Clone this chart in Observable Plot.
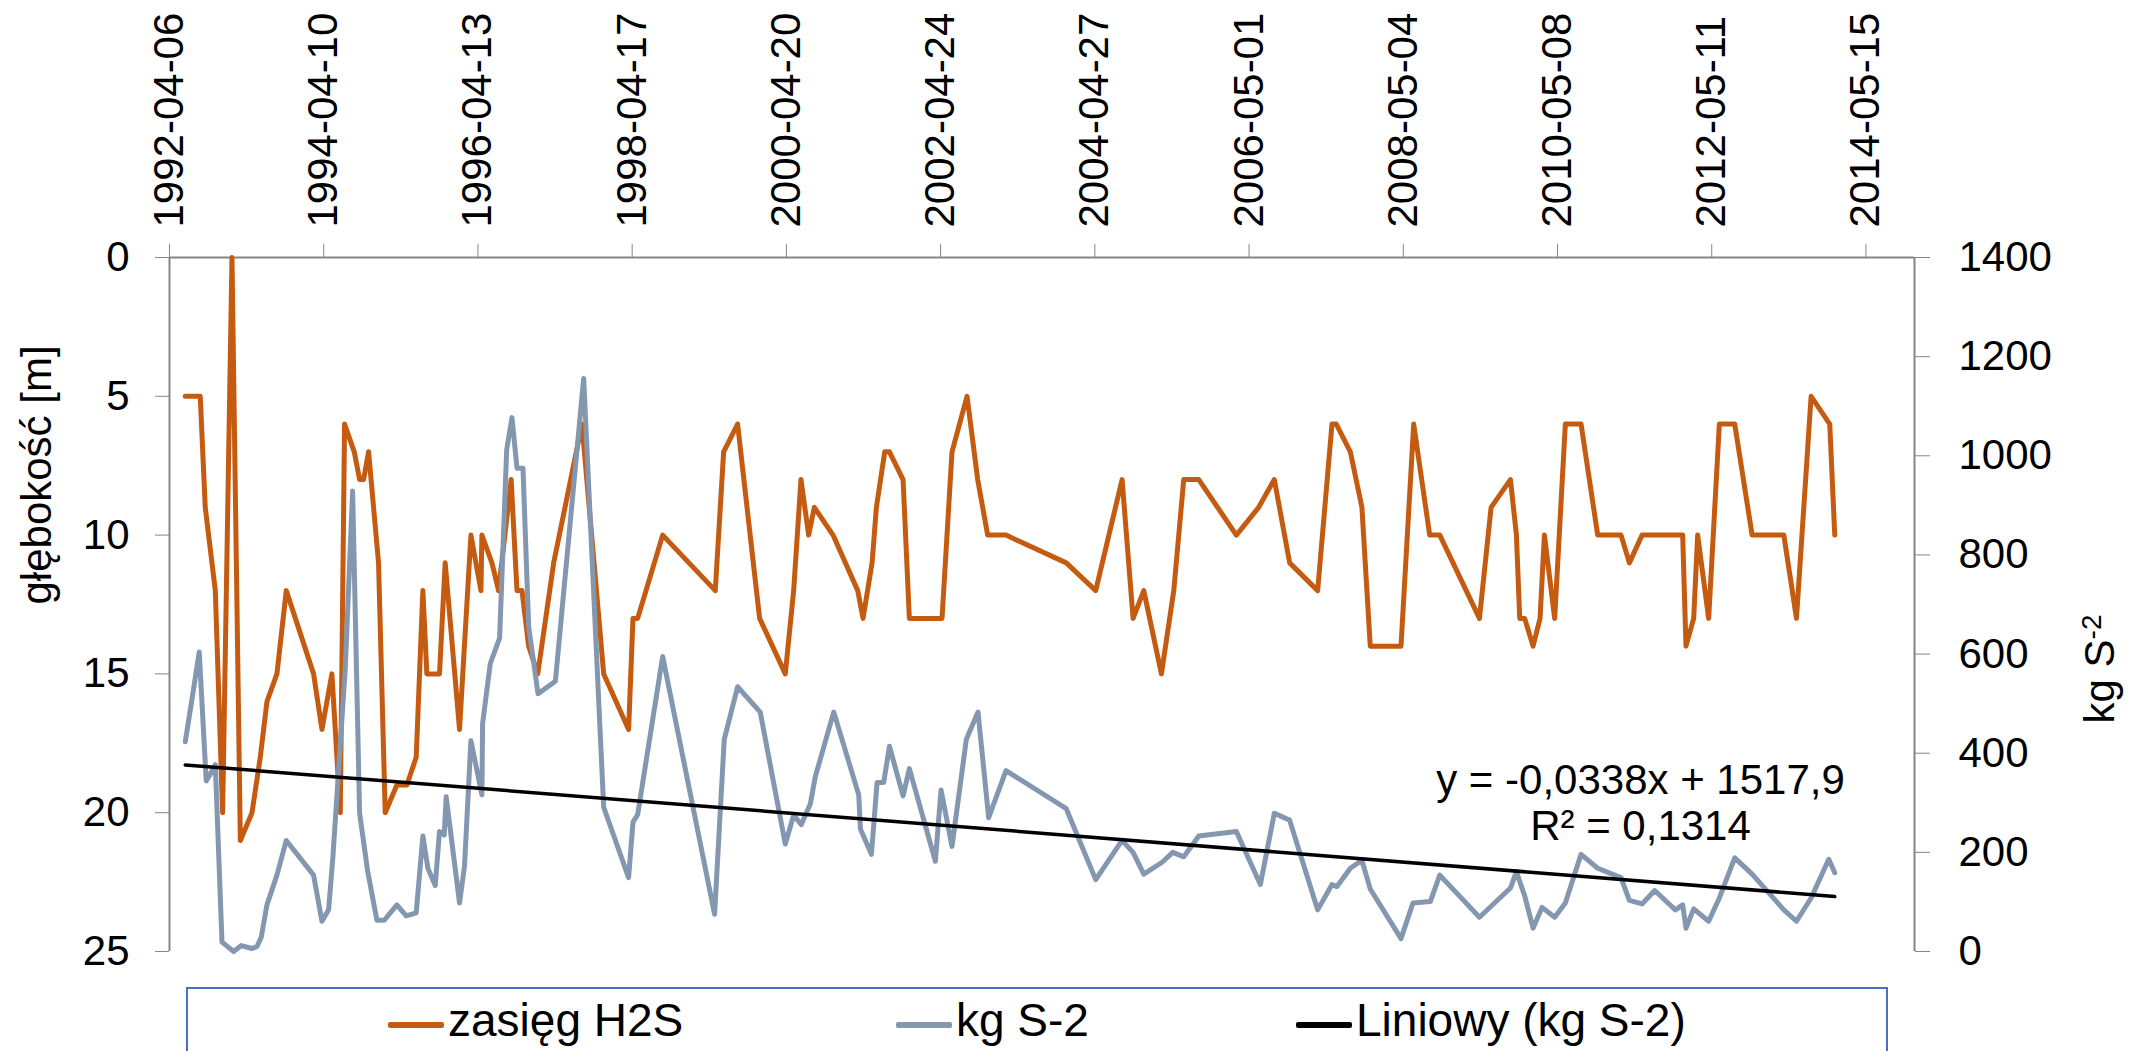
<!DOCTYPE html>
<html><head><meta charset="utf-8">
<script src="https://cdn.jsdelivr.net/npm/d3@7"></script>
<script src="https://cdn.jsdelivr.net/npm/@observablehq/plot@0.6"></script>
<style>
html,body{margin:0;padding:0;background:#fff;}
body{width:2130px;height:1051px;overflow:hidden;position:relative;font-family:"Liberation Sans",Arial,sans-serif;}
#chart{position:absolute;left:0;top:0;}
#legend{position:absolute;left:186px;top:987px;width:1702px;height:100px;border:2px solid #4472C4;box-sizing:border-box;background:#fff;}
.item{position:absolute;top:8px;height:46px;line-height:46px;font-size:46px;color:#000;white-space:nowrap;}
.sw{position:absolute;height:6px;width:56px;top:33px;border-radius:2px;}
</style></head><body>
<div id="chart"></div>
<div id="legend"></div>
<script>
// ---- data ----
const tickDates = ["1992-04-06","1994-04-10","1996-04-13","1998-04-17","2000-04-20","2002-04-24","2004-04-27","2006-05-01","2008-05-04","2010-05-08","2012-05-11","2014-05-15"];
const xDomain = ["1992-04-06","2015-01-01"];
const depthTicks = [0,5,10,15,20,25];
const kgTicks = [0,200,400,600,800,1000,1200,1400];
const depthMax = 25;
const kgMax = 1400;

// zasięg H2S : depth [m], dates as decimal years
const h2sYears = [1992.467,1992.662,1992.727,1992.858,1992.953,1993.075,1993.184,1993.336,1993.444,1993.531,1993.661,1993.783,
1994.139,1994.248,1994.378,1994.487,1994.543,1994.669,1994.739,1994.791,1994.856,1994.986,1995.073,1995.225,1995.356,1995.477,
1995.564,1995.616,1995.781,1995.855,1996.042,1996.190,1996.320,1996.333,1996.463,1996.550,1996.713,1996.789,1996.854,1996.941,
1997.059,1997.267,1997.636,1997.919,1998.244,1998.301,1998.362,1998.688,1999.374,1999.483,1999.665,1999.952,2000.286,2000.395,
2000.490,2000.590,2000.664,2000.907,2001.229,2001.298,2001.416,2001.472,2001.581,2001.642,2001.820,2001.902,2002.328,2002.458,
2002.654,2002.793,2002.923,2003.162,2003.948,2004.331,2004.674,2004.817,2004.956,2005.186,2005.347,2005.477,2005.673,2006.163,
2006.454,2006.658,2006.858,2007.223,2007.410,2007.466,2007.649,2007.800,2007.909,2008.309,2008.474,2008.682,2008.813,2009.330,
2009.482,2009.734,2009.812,2009.855,2009.920,2010.029,2010.120,2010.177,2010.311,2010.450,2010.655,2010.872,2011.176,2011.285,
2011.450,2011.980,2012.023,2012.123,2012.175,2012.318,2012.457,2012.657,2012.883,2013.296,2013.461,2013.652,2013.895,2013.960];
const h2sDepth = [5,5,9,12,20,0,21,20,18,16,15,12,
15,17,15,20,6,7,8,8,7,11,20,19,19,18,
12,15,15,11,17,10,12,10,11,12,8,12,12,14,
15,11,6,15,17,13,13,10,12,7,6,13,15,12,
8,10,9,10,12,13,11,9,7,7,8,13,13,7,
5,8,10,10,11,12,8,13,12,15,12,8,8,10,
9,8,11,12,6,6,7,9,14,14,6,10,10,13,
9,8,10,13,13,14,13,10,13,6,6,10,10,11,
10,10,14,13,10,13,6,6,10,10,13,5,6,10];

// kg S-2
const kgYears = [1992.467,1992.562,1992.649,1992.740,1992.793,1992.858,1992.945,1993.097,1993.197,1993.336,1993.401,1993.457,
1993.531,1993.661,1993.783,1994.139,1994.248,1994.335,1994.391,1994.552,1994.648,1994.739,1994.843,1994.965,1995.060,1995.225,
1995.347,1995.477,1995.564,1995.629,1995.725,1995.781,1995.842,1995.868,1996.042,1996.107,1996.190,1996.333,1996.342,1996.442,
1996.563,1996.655,1996.724,1996.789,1996.867,1996.941,1997.063,1997.289,1997.658,1997.919,1998.244,1998.301,1998.362,1998.688,
1999.365,1999.491,1999.665,1999.960,2000.286,2000.395,2000.495,2000.612,2000.677,2000.916,2001.242,2001.264,2001.407,2001.481,
2001.568,2001.642,2001.820,2001.902,2002.241,2002.315,2002.458,2002.645,2002.797,2002.936,2003.162,2003.948,2004.331,2004.674,
2004.817,2004.956,2005.195,2005.334,2005.477,2005.673,2006.163,2006.476,2006.658,2006.858,2007.223,2007.410,2007.475,2007.649,
2007.800,2007.909,2008.309,2008.465,2008.691,2008.813,2009.330,2009.734,2009.812,2009.920,2010.029,2010.146,2010.311,2010.450,
2010.655,2010.872,2011.176,2011.285,2011.450,2011.615,2011.884,2011.980,2012.023,2012.123,2012.318,2012.457,2012.657,2012.883,
2013.296,2013.461,2013.652,2013.882,2013.960];
const kgValues = [423,516,604,344,358,377,19,0,12,6,10,29,
94,154,224,154,61,84,191,571,929,279,163,63,63,94,
72,78,233,168,133,242,235,312,98,173,425,316,460,581,
632,1012,1077,975,975,655,520,545,1156,291,149,261,276,595,
75,428,534,483,217,275,256,298,353,483,316,247,196,341,
341,414,314,369,182,326,212,428,483,270,365,288,145,224,
200,156,180,200,191,233,242,135,279,265,84,135,131,168,
184,126,26,98,101,154,69,128,161,112,47,89,69,98,
196,168,149,103,96,123,84,94,47,86,61,108,189,156,
84,61,108,186,159];

// linear trend of kg S-2 (Excel serial date as x)
const trendSlope = -0.0338;
const trendIntercept = 1517.9;
const trendLabel = ["y = -0,0338x + 1517,9", "R² = 0,1314"];

const seriesNames = ["zasięg H2S", "kg S-2", "Liniowy (kg S-2)"];
const seriesColors = ["#C55A11", "#8497B0", "#000000"];
const yTitleLeft = "głębokość [m]";
const yTitleRight = "kg S-2";

// ---- helpers ----
function yearToDate(y) {
  const yr = Math.floor(y);
  const a = Date.UTC(yr, 0, 1), b = Date.UTC(yr + 1, 0, 1);
  return new Date(a + (y - yr) * (b - a));
}
const depthToY = d => kgMax * (1 - d / depthMax);
const yToDepth = v => Math.round(depthMax * (1 - v / kgMax));
const excelSerial = d => (d - Date.UTC(1899, 11, 30)) / 864e5;

const h2s = h2sYears.map((y, i) => ({date: yearToDate(y), v: depthToY(h2sDepth[i])}));
const kg = kgYears.map((y, i) => ({date: yearToDate(y), v: kgValues[i]}));
const trend = [kg[0].date, kg[kg.length - 1].date].map(date => ({date, v: trendSlope * excelSerial(date) + trendIntercept}));
const xDom = xDomain.map(s => new Date(s));

const FONT = '"Liberation Sans", Arial, sans-serif';
const AX = "#868686";

const chart = Plot.plot({
  width: 2130, height: 985,
  marginLeft: 169, marginRight: 216, marginTop: 257, marginBottom: 34,
  style: {fontFamily: FONT, fontSize: "42px", background: "#fff", overflow: "visible"},
  x: {type: "utc", domain: xDom},
  y: {domain: [0, kgMax]},
  marks: [
    Plot.ruleX(xDom, {stroke: AX, strokeWidth: 2}),
    Plot.ruleY([kgMax], {stroke: AX, strokeWidth: 2}),
    Plot.axisX({anchor: "top", ticks: tickDates.map(s => new Date(s)), tickFormat: d3.utcFormat("%Y-%m-%d"),
      tickRotate: -90, tickSize: 14, tickPadding: 16, stroke: AX, fill: "#000", fontSize: 42, label: null}),
    Plot.axisY({anchor: "left", ticks: depthTicks.map(depthToY), tickFormat: v => String(yToDepth(v)),
      tickSize: 14, tickPadding: 26, stroke: AX, fill: "#000", fontSize: 42, label: null}),
    Plot.axisY({anchor: "right", ticks: kgTicks, tickFormat: v => String(v),
      tickSize: 15, tickPadding: 29, stroke: AX, fill: "#000", fontSize: 42, label: null}),
    Plot.line(h2s, {x: "date", y: "v", stroke: seriesColors[0], strokeWidth: 5, strokeLinejoin: "round"}),
    Plot.line(kg, {x: "date", y: "v", stroke: seriesColors[1], strokeWidth: 5, strokeLinejoin: "round"}),
    Plot.line(trend, {x: "date", y: "v", stroke: seriesColors[2], strokeWidth: 3.5}),
    Plot.text([yTitleLeft], {text: d => d, frameAnchor: "left", dx: -132, rotate: -90, fontSize: 42, fill: "#000"}),
    Plot.text([yTitleRight], {text: d => d, frameAnchor: "right", dx: 186, dy: 10, rotate: -90, fontSize: 42, fill: "#000"}),
    Plot.text([trendLabel[0]], {text: d => d, frameAnchor: "bottom-right", dx: -274, dy: -158, textAnchor: "middle", fontSize: 42, fill: "#000"}),
    Plot.text([trendLabel[1]], {text: d => d, frameAnchor: "bottom-right", dx: -274, dy: -112, textAnchor: "middle", fontSize: 42, fill: "#000"})
  ]
});

// superscript for the right axis title
for (const t of chart.querySelectorAll("text")) {
  if (t.textContent === yTitleRight) {
    t.textContent = "kg S";
    const ts = document.createElementNS("http://www.w3.org/2000/svg", "tspan");
    ts.setAttribute("dy", "-0.45em");
    ts.setAttribute("font-size", "28");
    ts.textContent = "-2";
    t.appendChild(ts);
  }
}
document.getElementById("chart").appendChild(chart);

// legend
const legend = document.getElementById("legend");
const legendPos = [200, 708, 1108];
seriesNames.forEach((name, i) => {
  const sw = document.createElement("div");
  sw.className = "sw";
  sw.style.left = legendPos[i] + "px";
  sw.style.background = seriesColors[i];
  legend.appendChild(sw);
  const it = document.createElement("div");
  it.className = "item";
  it.style.left = (legendPos[i] + 60) + "px";
  it.textContent = name;
  legend.appendChild(it);
});
</script></body></html>
